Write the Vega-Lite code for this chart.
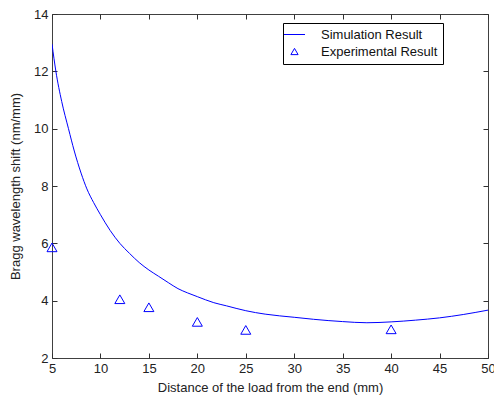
{
  "$schema": "https://vega.github.io/schema/vega-lite/v6.json",
  "width": 436,
  "height": 344,
  "autosize": {"type": "none"},
  "padding": {"left": 52, "top": 14, "right": 6, "bottom": 40},
  "background": "white",
  "config": {
    "view": {"stroke": "#404040", "strokeWidth": 1},
    "font": "Liberation Sans",
    "axis": {
      "grid": false,
      "domain": false,
      "tickColor": "#303030",
      "tickWidth": 1,
      "labelColor": "#222222",
      "titleColor": "#222222",
      "labelFont": "Liberation Sans",
      "titleFont": "Liberation Sans",
      "labelFontSize": 13,
      "titleFontSize": 13,
      "titleFontWeight": "normal",
      "labelFlush": false,
      "labelOverlap": false
    }
  },
  "datasets": {
    "sim": [
      {"x": 5, "y": 12.95, "series": "Simulation Result"},
      {"x": 5.4, "y": 12.0, "series": "Simulation Result"},
      {"x": 6, "y": 10.95, "series": "Simulation Result"},
      {"x": 6.7, "y": 10.0, "series": "Simulation Result"},
      {"x": 7.3, "y": 9.22, "series": "Simulation Result"},
      {"x": 8, "y": 8.45, "series": "Simulation Result"},
      {"x": 8.6, "y": 7.9, "series": "Simulation Result"},
      {"x": 9.3, "y": 7.42, "series": "Simulation Result"},
      {"x": 10, "y": 7.0, "series": "Simulation Result"},
      {"x": 11, "y": 6.45, "series": "Simulation Result"},
      {"x": 12, "y": 6.0, "series": "Simulation Result"},
      {"x": 13, "y": 5.65, "series": "Simulation Result"},
      {"x": 14, "y": 5.33, "series": "Simulation Result"},
      {"x": 15, "y": 5.07, "series": "Simulation Result"},
      {"x": 16, "y": 4.85, "series": "Simulation Result"},
      {"x": 17, "y": 4.63, "series": "Simulation Result"},
      {"x": 18, "y": 4.42, "series": "Simulation Result"},
      {"x": 19, "y": 4.27, "series": "Simulation Result"},
      {"x": 20, "y": 4.14, "series": "Simulation Result"},
      {"x": 21.7, "y": 3.93, "series": "Simulation Result"},
      {"x": 23, "y": 3.82, "series": "Simulation Result"},
      {"x": 25, "y": 3.65, "series": "Simulation Result"},
      {"x": 27, "y": 3.53, "series": "Simulation Result"},
      {"x": 28.5, "y": 3.47, "series": "Simulation Result"},
      {"x": 30, "y": 3.42, "series": "Simulation Result"},
      {"x": 32, "y": 3.35, "series": "Simulation Result"},
      {"x": 35, "y": 3.27, "series": "Simulation Result"},
      {"x": 37.5, "y": 3.23, "series": "Simulation Result"},
      {"x": 40, "y": 3.26, "series": "Simulation Result"},
      {"x": 42.5, "y": 3.32, "series": "Simulation Result"},
      {"x": 45, "y": 3.4, "series": "Simulation Result"},
      {"x": 47.5, "y": 3.52, "series": "Simulation Result"},
      {"x": 50, "y": 3.67, "series": "Simulation Result"}
    ],
    "exp": [
      {"x": 5, "y": 5.86, "series": "Experimental Result"},
      {"x": 12, "y": 4.05, "series": "Experimental Result"},
      {"x": 15, "y": 3.77, "series": "Experimental Result"},
      {"x": 20, "y": 3.26, "series": "Experimental Result"},
      {"x": 25, "y": 2.98, "series": "Experimental Result"},
      {"x": 40, "y": 3.0, "series": "Experimental Result"}
    ]
  },
  "layer": [
    {
      "data": {"name": "sim"},
      "mark": {"type": "line", "strokeWidth": 1, "clip": true, "interpolate": "monotone"},
      "encoding": {
        "x": {
          "field": "x", "type": "quantitative",
          "scale": {"domain": [5, 50], "nice": false, "zero": false},
          "axis": {"values": [5, 10, 15, 20, 25, 30, 35, 40, 45, 50], "title": "Distance of the load from the end (mm)", "ticks": false, "labelPadding": 4, "titlePadding": 6}
        },
        "y": {
          "field": "y", "type": "quantitative",
          "scale": {"domain": [2, 14], "nice": false, "zero": false},
          "axis": {"values": [2, 4, 6, 8, 10, 12, 14], "title": "Bragg wavelength shift (nm/mm)", "ticks": false, "labelPadding": 4, "titlePadding": 11}
        },
        "color": {
          "field": "series", "type": "nominal",
          "scale": {"domain": ["Simulation Result", "Experimental Result"], "range": ["#0000ff", "#0000ff"]},
          "legend": {
            "title": null,
            "orient": "none",
            "legendX": 231,
            "legendY": 9,
            "strokeColor": "#000000",
            "fillColor": "#ffffff",
            "padding": 5,
            "symbolSize": 144,
            "rowPadding": 3,
            "labelFontSize": 13,
            "labelColor": "#111111",
            "labelFont": "Liberation Sans",
            "labelOffset": 20,
            "labelExpr": "datum.label + '       '",
            "encode": {
              "symbols": {
                "update": {
                  "shape": {"signal": "datum.value == 'Simulation Result' ? 'M-1.75,0L1.75,0' : 'M0,-0.52L-0.6,0.52L0.6,0.52Z'"},
                  "fill": {"value": "transparent"},
                  "stroke": {"value": "#0000ff"},
                  "strokeWidth": {"value": 1},
                  "opacity": {"value": 1}
                }
              }
            }
          }
        }
      }
    },
    {
      "data": {"name": "exp"},
      "transform": [{"filter": "datum.x < 20"}],
      "mark": {"type": "point", "shape": "triangle-up", "filled": false, "size": 100, "strokeWidth": 1, "opacity": 1, "clip": false},
      "encoding": {
        "x": {"field": "x", "type": "quantitative", "axis": {"orient": "top", "offset": -344, "values": [5, 10, 15, 20, 25, 30, 35, 40, 45, 50], "labels": false, "title": null, "ticks": true, "tickSize": 5}},
        "y": {"field": "y", "type": "quantitative", "axis": {"orient": "right", "offset": -436, "values": [2, 4, 6, 8, 10, 12, 14], "labels": false, "title": null, "ticks": true, "tickSize": 5}},
        "color": {"field": "series", "type": "nominal"}
      }
    },
    {
      "data": {"name": "exp"},
      "transform": [{"filter": "datum.x >= 20"}],
      "mark": {"type": "point", "shape": "triangle-up", "filled": false, "size": 100, "strokeWidth": 1, "opacity": 1, "clip": false},
      "encoding": {
        "x": {"field": "x", "type": "quantitative", "axis": {"orient": "bottom", "offset": -344, "values": [5, 10, 15, 20, 25, 30, 35, 40, 45, 50], "labels": false, "title": null, "ticks": true, "tickSize": 5}},
        "y": {"field": "y", "type": "quantitative", "axis": {"orient": "left", "offset": -436, "values": [2, 4, 6, 8, 10, 12, 14], "labels": false, "title": null, "ticks": true, "tickSize": 5}},
        "color": {"field": "series", "type": "nominal"}
      }
    }
  ],
  "resolve": {"axis": {"x": "independent", "y": "independent"}}
}
